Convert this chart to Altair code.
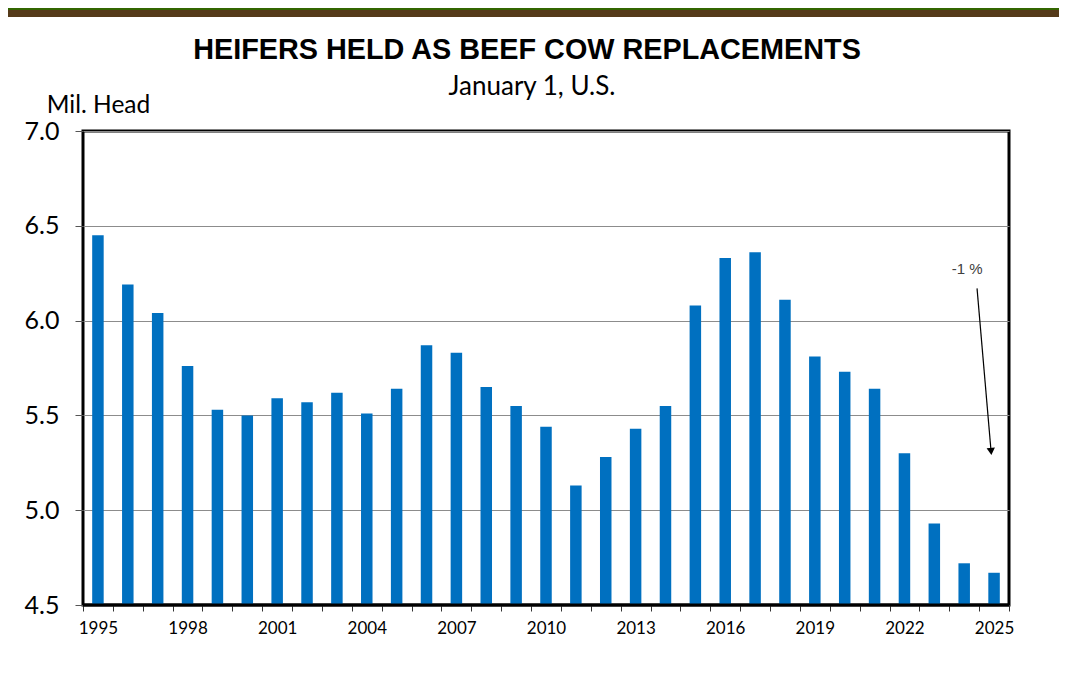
import altair as alt
import pandas as pd

# ---- data ----
years = list(range(1995, 2026))
heifers = [6.45, 6.19, 6.04, 5.76, 5.53, 5.50, 5.59, 5.57, 5.62, 5.51,
           5.64, 5.87, 5.83, 5.65, 5.55, 5.44, 5.13, 5.28, 5.43, 5.55,
           6.08, 6.33, 6.36, 6.11, 5.81, 5.73, 5.64, 5.30, 4.93, 4.72, 4.67]
y_ticks = [4.5, 5.0, 5.5, 6.0, 6.5, 7.0]
y_min, y_max = 4.5, 7.0

title_text = "HEIFERS HELD AS BEEF COW REPLACEMENTS"
subtitle_text = "January 1, U.S."
y_title = "Mil. Head"

# annotation (continuous year position, value)
arrow_x = [2024.43, 2024.90]
arrow_y = [6.17, 5.31]
note_text = "-1 %"
note_x = 2024.1
note_y = 6.27

df = pd.DataFrame({"year": years, "value": heifers})
one = pd.DataFrame({"k": [0]})
arrow_df = pd.DataFrame({"x": [arrow_x[0]], "x2": [arrow_x[1]],
                         "y": [arrow_y[0]], "y2": [arrow_y[1]]})
head_df = pd.DataFrame({"x": [arrow_x[1]], "y": [arrow_y[1]]})
note_df = pd.DataFrame({"x": [note_x], "y": [note_y], "t": [note_text]})

LABEL_FONT = "Lato"
BLUE = "#0070C0"

yscale = alt.Scale(domain=[y_min, y_max], zero=False, nice=False)

bars = alt.Chart(df).mark_bar(color=BLUE, size=11.5).encode(
    x=alt.X("year:O",
            scale=alt.Scale(paddingInner=0, paddingOuter=0),
            axis=alt.Axis(title=None, tickBand="extent", labelAngle=0,
                          labelExpr="datum.value % 3 == 0 ? datum.label : ''",
                          labelFont=LABEL_FONT, labelFontSize=17, labelColor="black",
                          tickSize=6, tickColor="#333333", tickWidth=1,
                          domain=False, grid=False, labelPadding=9)),
    y=alt.Y("value:Q", scale=yscale,
            axis=alt.Axis(values=y_ticks, format=".1f", title=y_title,
                          titleAngle=0, titleX=15, titleY=-26,
                          titleAlign="center", titleBaseline="middle",
                          titleFont=LABEL_FONT, titleFontSize=24.5,
                          titleFontWeight="normal", titleColor="black",
                          labelFont=LABEL_FONT, labelFontSize=25, labelColor="black",
                          labelPadding=16, tickSize=8, tickColor="#555555",
                          grid=True, gridColor="#8c8c8c", gridWidth=1,
                          domain=False)),
    y2=alt.datum(y_min),
)

xq = alt.Scale(domain=[1994.5, 2025.5], nice=False, zero=False)

arrow = alt.Chart(arrow_df).mark_rule(color="black", strokeWidth=1.2).encode(
    x=alt.X("x:Q", scale=xq, axis=None),
    x2="x2:Q",
    y=alt.Y("y:Q", scale=yscale),
    y2="y2:Q",
)
head = alt.Chart(head_df).mark_point(shape="triangle-down", filled=True,
                                     color="black", size=70, opacity=1,
                                     angle=355).encode(
    x=alt.X("x:Q", scale=xq, axis=None),
    y=alt.Y("y:Q", scale=yscale),
)
note = alt.Chart(note_df).mark_text(font="Liberation Sans", fontSize=15,
                                    color="#404040").encode(
    x=alt.X("x:Q", scale=xq, axis=None),
    y=alt.Y("y:Q", scale=yscale),
    text="t:N",
)

bottom = alt.Chart(one).mark_rule(color="black", strokeWidth=3).encode(
    y=alt.datum(y_min), x=alt.value(0), x2=alt.value(926)
)

title = alt.Chart(one).mark_text(font="Liberation Sans", fontWeight="bold",
                                 fontSize=28.8, color="black").encode(
    x=alt.value(444), y=alt.value(-81), text=alt.datum(title_text))
subtitle = alt.Chart(one).mark_text(font=LABEL_FONT, fontSize=26,
                                    color="black").encode(
    x=alt.value(449), y=alt.value(-44), text=alt.datum(subtitle_text))

banner_green = alt.Chart(one).mark_rect(color="#336600").encode(
    x=alt.value(-75), x2=alt.value(976), y=alt.value(-123), y2=alt.value(-121))
banner_brown = alt.Chart(one).mark_rect(color="#553A1A").encode(
    x=alt.value(-75), x2=alt.value(976), y=alt.value(-121), y2=alt.value(-114))

chart = alt.layer(
    bars, bottom, arrow, head, note, title, subtitle, banner_green, banner_brown
).resolve_scale(x="independent").properties(
    width=926, height=474,
    padding={"left": 75, "top": 123, "right": 50, "bottom": 62},
    autosize=alt.AutoSizeParams(type="none"),
    background="white",
).configure_view(stroke="black", strokeWidth=3)

chart.save("out.html", embed_options={"renderer": "svg", "actions": False})
